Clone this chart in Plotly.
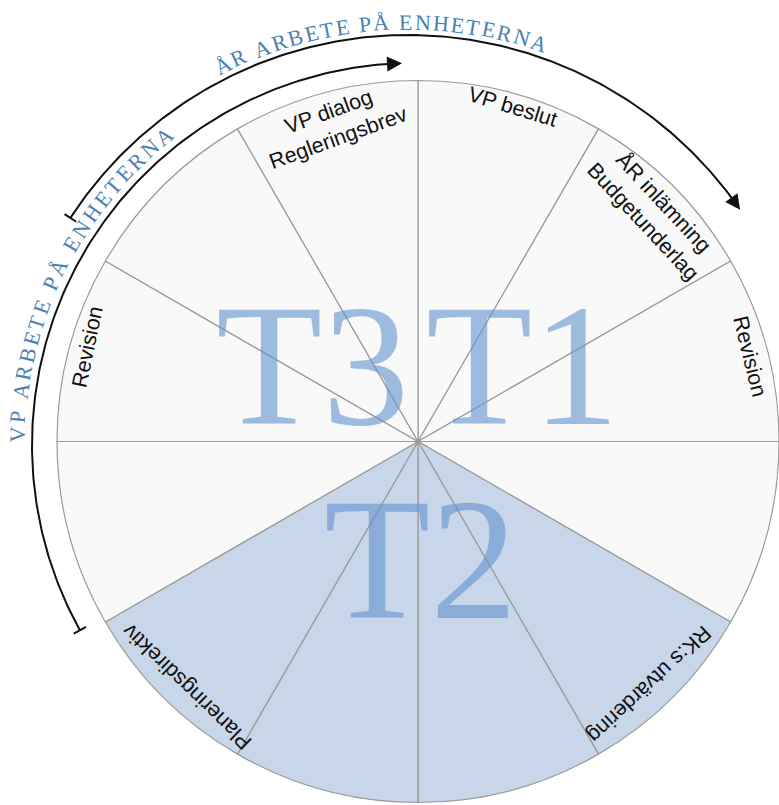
import numpy as np
import plotly.graph_objects as go

# ---------------- data ----------------
sectors = ["S1", "S2", "S3", "S4", "S5", "S6", "S7", "S8", "S9", "S10", "S11", "S12"]
sector_values = [1, 1, 1, 1, 1, 1, 1, 1, 1, 1, 1, 1]
sector_shaded = [0, 0, 0, 0, 1, 1, 1, 1, 0, 0, 0, 0]

activity_labels = ["VP dialog<br>Regleringsbrev", "VP beslut", "ÅR inlämning<br>Budgetunderlag",
                   "Revision", "RK:s utvärdering", "Planeringsdirektiv", "Revision"]
activity_sector = [11, 0, 1, 2, 4, 7, 9]

term_labels = ["T1", "T2", "T3"]
arc_labels = ["ÅR ARBETE PÅ ENHETERNA", "VP ARBETE PÅ ENHETERNA"]

# ---------------- layout / style ----------------
W, H = 779, 805
CX, CY, R = 418, 441.5, 361
LIGHT, SHADE = "#f9f9f9", "#c7d6e8"
LINE = "#9a9a9a"
ARC_TXT = "#4b80b2"

# label placement: (angle clockwise from 12 o'clock, radius, rotation)
label_pos = [(-15, 328, -20), (15.8, 348, 17), (45.7, 328, 47), (75.6, 342, 76),
             (136.4, 335, 137), (223.3, 337, -136), (-74, 344, -78)]
term_pos = [(522, 365), (420, 559), (312, 365)]

# arcs: centre, radius, start/end angle, text start/end angle, text radius
arcs = [
    dict(cx=408, cy=438, r=403, a0=-56.9, a1=55.5, ta0=-27.5, ta1=19.5, tr=416),
    dict(cx=414, cy=445, r=382, a0=-119.0, a1=-1.8, ta0=-89.6, ta1=-37.8, tr=397),
]

def pt(cx, cy, r, a):
    t = np.radians(a)
    return cx + r * np.sin(t), cy - r * np.cos(t)

fig = go.Figure()

fig.add_trace(go.Pie(
    values=sector_values, labels=sectors, sort=False, direction="clockwise", rotation=0,
    marker=dict(colors=[SHADE if s else LIGHT for s in sector_shaded],
                line=dict(color=LINE, width=1.2)),
    textinfo="none", hoverinfo="skip", showlegend=False,
    domain=dict(x=[(CX - R) / W, min(1, (CX + R) / W)],
                y=[1 - (CY + R) / H, 1 - (CY - R) / H]),
))

annotations = []

# sector labels
for txt, sec, (a, r, rot) in zip(activity_labels, activity_sector, label_pos):
    x, y = pt(CX, CY, r, a)
    annotations.append(dict(x=x, y=y, xref="x", yref="y", text=txt, showarrow=False,
                            textangle=rot, xanchor="center", yanchor="middle", align="center",
                            font=dict(family="Liberation Sans, Arial", size=21.5, color="#111111")))

# big term letters
for txt, (x, y) in zip(term_labels, term_pos):
    annotations.append(dict(x=x, y=y, xref="x", yref="y", text=txt, showarrow=False,
                            xanchor="center", yanchor="middle",
                            font=dict(family="Liberation Serif, Times New Roman", size=174,
                                      color="rgba(98,148,206,0.62)")))

SERIF_W = {"A": .722, "B": .667, "E": .611, "H": .722, "N": .722, "P": .556, "R": .667,
           "T": .611, "V": .722, "Å": .722, " ": .25}

for lab, g in zip(arc_labels, arcs):
    # arc line
    angs = np.linspace(g["a0"], g["a1"] - 1.5, 200)
    xs, ys = pt(g["cx"], g["cy"], g["r"], angs)
    fig.add_trace(go.Scatter(x=xs, y=ys, mode="lines", line=dict(color="#111111", width=2),
                             hoverinfo="skip", showlegend=False))
    # start tick
    tx, ty = pt(g["cx"], g["cy"], np.array([g["r"] - 7, g["r"] + 7]), g["a0"])
    fig.add_trace(go.Scatter(x=tx, y=ty, mode="lines", line=dict(color="#111111", width=2),
                             hoverinfo="skip", showlegend=False))
    # arrow head
    hx, hy = pt(g["cx"], g["cy"], g["r"], g["a1"])
    bx, by = pt(g["cx"], g["cy"], g["r"], g["a1"] - 2.5)
    annotations.append(dict(x=hx, y=hy, ax=bx, ay=by, xref="x", yref="y", axref="x", ayref="y",
                            text="", showarrow=True, arrowhead=2, arrowsize=1.5, arrowwidth=2,
                            arrowcolor="#111111", standoff=0))
    # curved text
    fs = 22
    widths = np.array([SERIF_W.get(c, .6) * fs for c in lab])
    total = np.radians(g["ta1"] - g["ta0"]) * g["tr"]
    gap = (total - widths.sum()) / (len(lab) - 1)
    lefts = np.concatenate([[0], np.cumsum(widths + gap)[:-1]])
    centers = lefts + widths / 2
    for c, s in zip(lab, centers):
        if c == " ":
            continue
        a = g["ta0"] + np.degrees(s / g["tr"])
        x, y = pt(g["cx"], g["cy"], g["tr"], a)
        annotations.append(dict(x=x, y=y, xref="x", yref="y", text=c, showarrow=False,
                                textangle=a, xanchor="center", yanchor="middle",
                                font=dict(family="Liberation Serif, Times New Roman", size=fs,
                                          color=ARC_TXT)))

fig.update_layout(
    width=W, height=H, margin=dict(l=0, r=0, t=0, b=0),
    paper_bgcolor="white", plot_bgcolor="rgba(0,0,0,0)",
    xaxis=dict(range=[0, W], visible=False, fixedrange=True),
    yaxis=dict(range=[H, 0], visible=False, fixedrange=True),
    annotations=annotations, showlegend=False,
)

fig.write_html("out.html", config={"displayModeBar": False},
               post_script="document.body.style.margin='0';document.body.style.overflow='hidden';")
